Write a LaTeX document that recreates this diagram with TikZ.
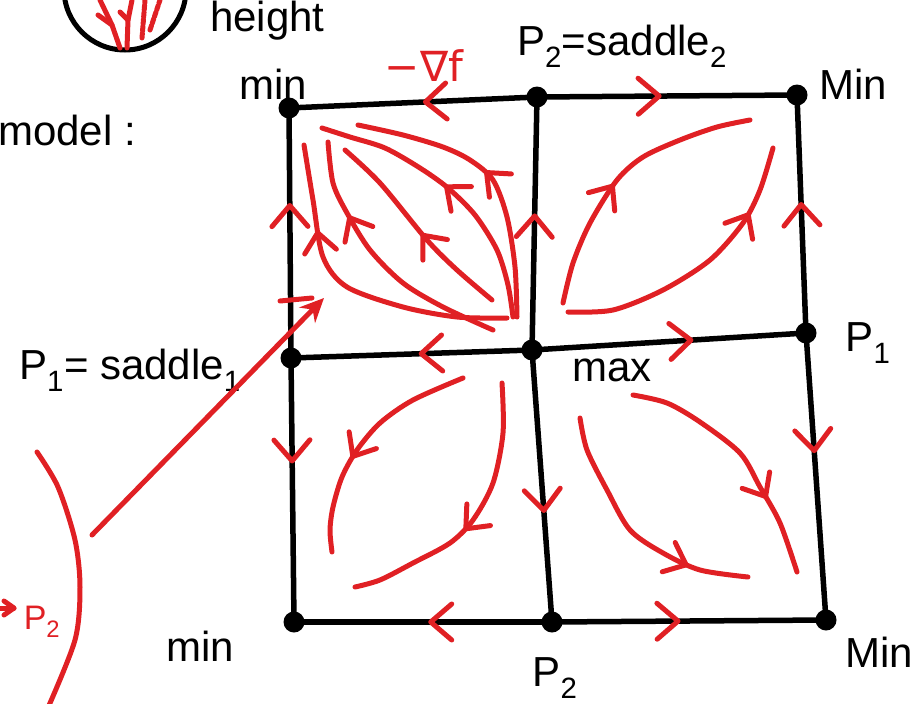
\documentclass[tikz,border=0pt]{standalone}
\usepackage{fontspec}
\setmainfont{Liberation Sans}
\newfontfamily\dejavu{DejaVu Sans}
\usetikzlibrary{arrows.meta,decorations.markings}
\definecolor{pen}{RGB}{224,32,36}
\tikzset{
  dot/.style={circle,fill=black,inner sep=0pt,minimum size=21pt},
  gridline/.style={line width=5.5pt,line cap=round,black},
  flow/.style={line width=5pt,line cap=round,line join=round,pen},
  chevdraw/.style={pen,line width=5pt,line cap=round,line join=round},
  lab/.style={font=\fontsize{42}{44}\selectfont,inner sep=0pt},
  redlab/.style={lab,text=pen},
  gmark/.style={postaction={decorate},decoration={markings,mark=at position #1 with {\draw[chevdraw] (-21pt,18pt) -- (0pt,0pt) -- (-21pt,-18pt);}}},
  fmark/.style={postaction={decorate},decoration={markings,mark=at position #1 with {\draw[chevdraw] (-19pt,16pt) -- (0pt,0pt) -- (-19pt,-16pt);}}}
}
\begin{document}
\begin{tikzpicture}[x=1pt,y=-1pt]
\useasboundingbox (0,0) rectangle (916,704);

% critical points
\node[dot] (TL) at (289,108) {};
\node[dot] (TM) at (537,97) {};
\node[dot] (TR) at (797,95) {};
\node[dot] (ML) at (291,358) {};
\node[dot] (C)  at (532,350) {};
\node[dot] (MR) at (806,333) {};
\node[dot] (BL) at (294,622) {};
\node[dot] (BM) at (552,622) {};
\node[dot] (BR) at (826,620) {};

% grid edges with flow chevrons
\draw[gridline,gmark=0.45] (TM.center) -- (TL.center);
\draw[gridline,gmark=0.47] (TM.center) -- (TR.center);
\draw[gridline,gmark=0.61] (ML.center) -- (TL.center);
\draw[gridline,gmark=0.53] (C.center) -- (TM.center);
\draw[gridline,gmark=0.54] (MR.center) -- (TR.center);
\draw[gridline,gmark=0.46] (C.center) -- (ML.center);
\draw[gridline,gmark=0.58] (C.center) -- (MR.center);
\draw[gridline,gmark=0.39] (ML.center) -- (BL.center);
\draw[gridline,gmark=0.59] (C.center) -- (BM.center);
\draw[gridline,gmark=0.41] (MR.center) -- (BR.center);
\draw[gridline,gmark=0.47] (BM.center) -- (BL.center);
\draw[gridline,gmark=0.46] (BM.center) -- (BR.center);

% top-left cell flow lines
\draw[flow,fmark=0.72] plot[smooth] coordinates {(507,318) (457,317) (403,307) (347,287) (323,257) (313,200) (304,145)};
\draw[flow,fmark=0.70] plot[smooth] coordinates {(493,330) (443,307) (403,283) (370,250) (347,213) (333,183) (328,142)};
\draw[flow,fmark=0.45] plot[smooth] coordinates {(492,300) (457,270) (427,240) (380,183) (345,150)};
\draw[flow,fmark=0.52] plot[smooth] coordinates {(513,317) (508,285) (497,250) (475,215) (448,188) (420,168) (385,148) (350,137) (322,128)};
\draw[flow,fmark=0.52] plot[smooth] coordinates {(517,317) (515,267) (507,217) (493,180) (470,160) (443,147) (403,135) (358,125)};

% top-right cell
\draw[flow,fmark=0.45] plot[smooth] coordinates {(563,303) (573,263) (590,223) (617,180) (643,157) (680,140) (717,127) (750,120)};
\draw[flow,fmark=0.75] plot[smooth] coordinates {(568,312) (613,310) (663,290) (710,260) (743,223) (760,190) (773,148)};

% bottom-left cell
\draw[flow,fmark=0.58] plot[smooth] coordinates {(463,378) (413,400) (380,423) (357,450) (342,477) (333,507) (330,530) (332,552)};
\draw[flow,fmark=0.55] plot[smooth] coordinates {(502,383) (503,433) (493,483) (473,520) (450,543) (413,563) (380,580) (355,587)};

% bottom-right cell
\draw[flow,fmark=0.68] plot[smooth] coordinates {(633,395) (667,403) (700,422) (740,453) (760,487) (780,523) (797,572)};
\draw[flow,fmark=0.75] plot[smooth] coordinates {(580,418) (587,450) (607,490) (630,530) (663,553) (700,570) (748,577)};

% labels
\node[lab] (lTL) at (273,84) {min};
\node[lab] (lTM) at (622,46) {P\textsubscript{2}=saddle\textsubscript{2}};
\node[lab] (lTR) at (853,84) {Min};
\node[redlab] (lgrad) at (424,66) {\dejavu −∇f};
\node[lab,anchor=west] (lmodel) at (-2,130) {model :};
\node[lab,anchor=west] (lheight) at (210,21) {height};
\node[lab] (lML) at (130,370) {P\textsubscript{1}= saddle\textsubscript{1}};
\node[lab] (lC) at (612,370) {max};
\node[lab] (lMR) at (868,343) {P\textsubscript{1}};
\node[lab] (lBL) at (200,646) {min};
\node[lab] (lBM) at (555,678) {P\textsubscript{2}};
\node[lab,anchor=west] (lBR) at (845,652) {Min};
\node[redlab,font=\fontsize{34}{36}\selectfont] (lred) at (42,622) {P\textsubscript{2}};

% side sketch: circle with red streams
\draw[line width=5pt] (125,-11) circle[radius=61];
\draw[flow] (120,48) -- (112,25) -- (100,0);
\draw[flow] (112,25) -- (98,15);
\draw[flow] (127,48) -- (128,20) -- (132,0);
\draw[flow] (128,20) -- (120,12);
\draw[flow,dotted] (142,38) -- (145,0);
\draw[flow,dotted] (150,30) -- (160,0);

% big red arc and pointer arrow
\draw[flow] plot[smooth] coordinates {(37,452) (58,487) (75,540) (80,587) (75,640) (47,710)};
\coordinate (arrStart) at (92,535);
\coordinate (arrEnd) at (324,298);
\draw[flow,-{Stealth[length=24pt,width=22pt]}] (arrStart) -- (arrEnd);
\draw[flow] (280,301) -- (312,298);
\coordinate (smallStart) at (-10,608);
\coordinate (smallEnd) at (14,608);
\draw[flow] (smallStart) -- (smallEnd);
\draw[flow] (4,601) -- (14,608) -- (4,615);
\end{tikzpicture}
\end{document}
